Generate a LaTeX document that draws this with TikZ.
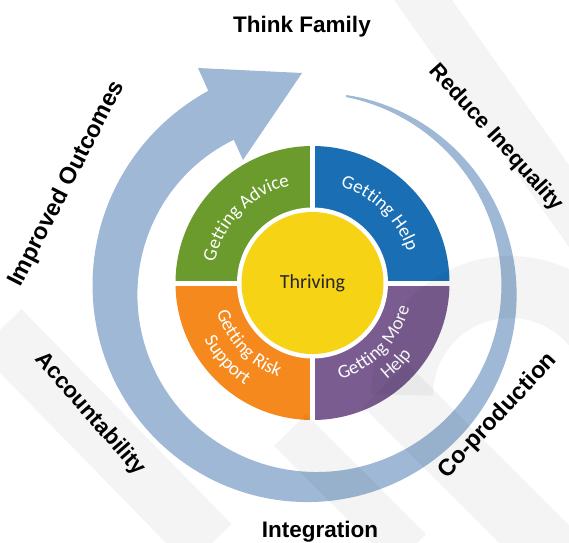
\documentclass[tikz,border=0pt]{standalone}
\usepackage{fontspec}
\setmainfont{Liberation Sans}
\newfontfamily\qfont{Carlito}
\usetikzlibrary{decorations.text,calc}
\definecolor{arrowblue}{RGB}{158,184,213}
\definecolor{qgreen}{RGB}{106,155,44}
\definecolor{qblue}{RGB}{26,111,180}
\definecolor{qorange}{RGB}{245,137,30}
\definecolor{qpurple}{RGB}{122,92,145}
\definecolor{qyellow}{RGB}{247,211,22}
\begin{document}
\begin{tikzpicture}[x=1pt,y=1pt,
  lab/.style={font=\fontsize{22.5}{26}\selectfont\bfseries, text=black, inner sep=0pt},
  wm/.style={fill=black, fill opacity=0.045},
  wmline/.style={draw=black, draw opacity=0.045},
  arctext/.style={postaction={decorate}, decoration={text along path, text align=center, text color=white, text={|\qfont\fontsize{19}{22}\selectfont|#1}}}
]
\useasboundingbox (0,0) rectangle (569,-542);
\fill[white] (0,0) rectangle (569,-542);

% circular arrow
\fill[arrowblue]
  plot[domain=80:-242.5,samples=150] ({312+(198+0.0825*(80-\x))*cos(\x)},{-290+(198+0.0825*(80-\x))*sin(\x)})
  -- (198,-68) -- (302,-73) -- (243,-160)
  -- plot[domain=-242.5:80,samples=150] ({312+(196-0.0825*(80-\x))*cos(\x)},{-290+(196-0.0825*(80-\x))*sin(\x)})
  -- cycle;

% quadrant disc
\coordinate (c) at (312.5,-283);
\fill[qgreen] (c) -- ++(180:137) arc[start angle=180,end angle=90,radius=137] -- cycle;
\fill[qblue] (c) -- ++(90:137) arc[start angle=90,end angle=0,radius=137] -- cycle;
\fill[qpurple] (c) -- ++(0:137) arc[start angle=0,end angle=-90,radius=137] -- cycle;
\fill[qorange] (c) -- ++(-90:137) arc[start angle=-90,end angle=-180,radius=137] -- cycle;
\draw[white,line width=5] ($(c)+(-140,0)$) -- ($(c)+(140,0)$);
\draw[white,line width=5] ($(c)+(0,-140)$) -- ($(c)+(0,140)$);
\fill[white] (c) circle[radius=75.5];
\node[circle, fill=qyellow, minimum size=142, inner sep=0pt, text={black!85}, font=\qfont\fontsize{20}{22}\selectfont] (thr) at (c) {Thriving};

% curved quadrant labels
\path[arctext={Getting Advice}] ($(c)+(175.5:100)$) arc[start angle=175.5,end angle=95.5,radius=100];
\path[arctext={Getting Help}] ($(c)+(86:100)$) arc[start angle=86,end angle=6,radius=100];
\path[arctext={Getting Risk}] ($(c)+(183.5:100)$) arc[start angle=183.5,end angle=263.5,radius=100];
\path[arctext={Support}] ($(c)+(192:122)$) arc[start angle=192,end angle=252,radius=122];
\path[arctext={Getting More}] ($(c)+(276:100)$) arc[start angle=276,end angle=356,radius=100];
\path[arctext={Help}] ($(c)+(296:122)$) arc[start angle=296,end angle=336,radius=122];

% outer labels
\node[lab, anchor=base] (think) at (302,-32) {Think Family};
\node[lab, anchor=base] (integ) at (320,-537) {Integration};
\node[lab, rotate=63, font=\fontsize{23.5}{26}\selectfont\bfseries] (impr) at (67,-184) {Improved Outcomes};
\node[lab, rotate=-48, font=\fontsize{22}{26}\selectfont\bfseries] (reduce) at (496,-138) {Reduce Inequality};
\node[lab, rotate=-49] (acc) at (90,-414) {Accountability};
\node[lab, rotate=47, font=\fontsize{23.5}{26}\selectfont\bfseries] (coprod) at (498,-416) {Co-production};

% faint watermark
\begin{scope}
\clip (0,0) rectangle (569,-542);
\fill[wm] (394,0) -- (452,0) -- (569,-165) -- (569,-247) -- cycle;
\draw[wmline, line width=62] ($(510,-395)+(180:108)$) arc[start angle=180,end angle=-10,radius=108];
\draw[wmline, line width=62] (385,-385) -- (575,-575);
\draw[wmline, line width=45] (290,-430) -- (410,-550);
\draw[wmline, line width=60] (0,-330) -- (210,-545);
\end{scope}
\end{tikzpicture}
\end{document}
